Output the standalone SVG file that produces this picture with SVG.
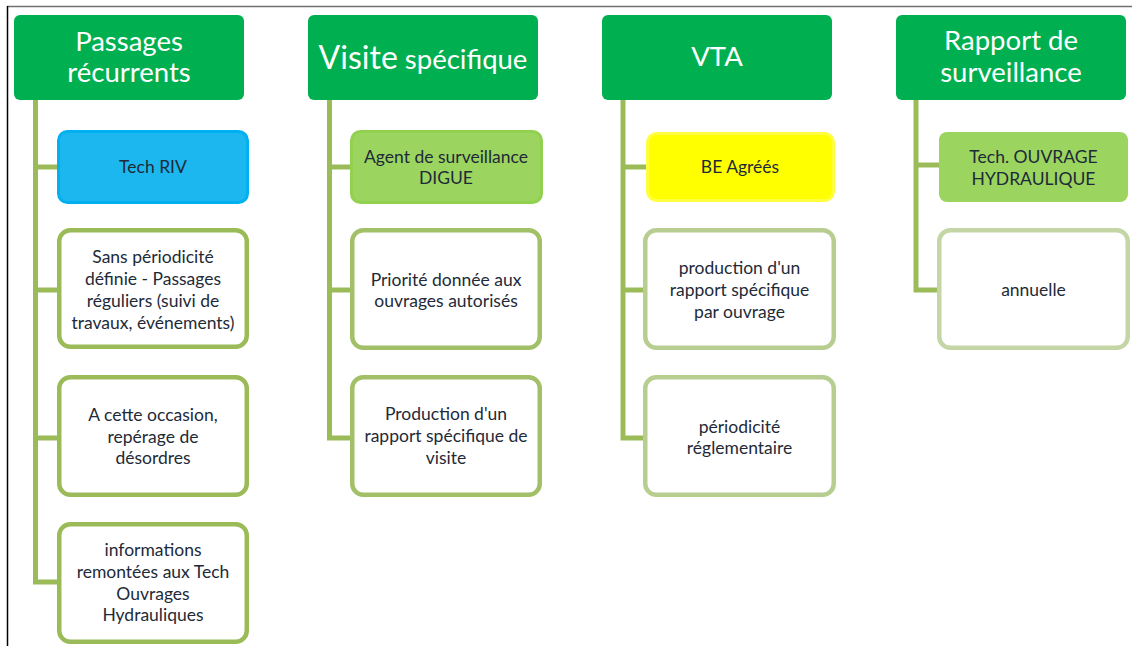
<svg xmlns="http://www.w3.org/2000/svg" width="1132" height="646" viewBox="0 0 1132 646">
<style>
.hdr{fill:#00B050}
.ht{font-family:Lato,"Open Sans",sans-serif;fill:#FFFFFF;text-anchor:middle;font-size:27.5px}
.ct{font-family:Lato,"Open Sans",sans-serif;fill:#1E2A38;text-anchor:middle;font-size:17.5px}
.wb{fill:#FFFFFF;stroke-width:4.5}
.conn{stroke:#9BBB59;stroke-width:5;fill:none}
</style>
<rect width="1132" height="646" fill="#FFFFFF"/>
<line x1="7" y1="6.5" x2="1132" y2="6.5" stroke="#707070" stroke-width="1.5"/>
<line x1="7.5" y1="6" x2="7.5" y2="646" stroke="#000000" stroke-width="1.5"/>

<g id="connectors">
  <path class="conn" d="M35.5,100 V582 H59"/>
  <path class="conn" d="M35.5,167 H59 M35.5,290 H59 M35.5,438 H59"/>
  <path class="conn" d="M329.5,100 V438 H352"/>
  <path class="conn" d="M329.5,167 H352 M329.5,290 H352"/>
  <path class="conn" d="M623,100 V438 H645"/>
  <path class="conn" d="M623,167 H648 M623,290 H645"/>
  <path class="conn" d="M916,100 V290 H939"/>
  <path class="conn" d="M916,165 H941"/>
</g>

<g id="h1">
  <rect class="hdr" x="14" y="15" width="230" height="85" rx="6"/>
  <text class="ht" x="129" y="51">Passages</text>
  <text class="ht" x="129" y="82">récurrents</text>
</g>
<g id="h2">
  <rect class="hdr" x="308" y="15" width="230" height="85" rx="6"/>
  <text class="ht" x="423" y="69"><tspan font-size="32">Visite</tspan> spécifique</text>
</g>
<g id="h3">
  <rect class="hdr" x="602" y="15" width="230" height="85" rx="6"/>
  <text class="ht" x="717" y="66" font-size="25">VTA</text>
</g>
<g id="h4">
  <rect class="hdr" x="896" y="15" width="230" height="85" rx="6"/>
  <text class="ht" x="1011" y="50">Rapport de</text>
  <text class="ht" x="1011" y="82">surveillance</text>
</g>

<g id="c1a">
  <rect x="58.5" y="131.5" width="189" height="71" rx="9" fill="#1DB7EF" stroke="#00B0F0" stroke-width="3"/>
  <text class="ct" x="153" y="173">Tech RIV</text>
</g>
<g id="c1b">
  <rect class="wb" x="59.25" y="230.25" width="187.5" height="116.5" rx="11" stroke="#9BBB59"/>
  <text class="ct" x="153" y="263">Sans périodicité</text>
  <text class="ct" x="153" y="285">définie - Passages</text>
  <text class="ct" x="153" y="307">réguliers (suivi de</text>
  <text class="ct" x="153" y="329">travaux, événements)</text>
</g>
<g id="c1c">
  <rect class="wb" x="59.25" y="377.25" width="187.5" height="117.5" rx="11" stroke="#9BBB59"/>
  <text class="ct" x="153" y="421">A cette occasion,</text>
  <text class="ct" x="153" y="443">repérage de</text>
  <text class="ct" x="153" y="464">désordres</text>
</g>
<g id="c1d">
  <rect class="wb" x="59.25" y="524.25" width="187.5" height="117.5" rx="11" stroke="#9BBB59"/>
  <text class="ct" x="153" y="556">informations</text>
  <text class="ct" x="153" y="578">remontées aux Tech</text>
  <text class="ct" x="153" y="600">Ouvrages</text>
  <text class="ct" x="153" y="621">Hydrauliques</text>
</g>

<g id="c2a">
  <rect x="351.5" y="131.5" width="190" height="71" rx="9" fill="#9CD460" stroke="#92D050" stroke-width="3"/>
  <text class="ct" x="446" y="163">Agent de surveillance</text>
  <text class="ct" x="446" y="184">DIGUE</text>
</g>
<g id="c2b">
  <rect class="wb" x="352.25" y="230.25" width="187.5" height="117.5" rx="11" stroke="#A2C068"/>
  <text class="ct" x="446" y="286">Priorité donnée aux</text>
  <text class="ct" x="446" y="307">ouvrages autorisés</text>
</g>
<g id="c2c">
  <rect class="wb" x="352.25" y="377.25" width="187.5" height="117.5" rx="11" stroke="#A2C068"/>
  <text class="ct" x="446" y="420">Production d'un</text>
  <text class="ct" x="446" y="442">rapport spécifique de</text>
  <text class="ct" x="446" y="464">visite</text>
</g>

<g id="c3a">
  <rect x="647.5" y="133.5" width="186" height="67" rx="9" fill="#FFFF00" stroke="#FFFF40" stroke-width="3"/>
  <text class="ct" x="740" y="173">BE Agréés</text>
</g>
<g id="c3b">
  <rect class="wb" x="645.25" y="230.25" width="188.5" height="117.5" rx="11" stroke="#B8CE91"/>
  <text class="ct" x="739.5" y="274">production d'un</text>
  <text class="ct" x="739.5" y="296">rapport spécifique</text>
  <text class="ct" x="739.5" y="318">par ouvrage</text>
</g>
<g id="c3c">
  <rect class="wb" x="645.25" y="377.25" width="188.5" height="117.5" rx="11" stroke="#B8CE91"/>
  <text class="ct" x="739.5" y="433">périodicité</text>
  <text class="ct" x="739.5" y="454">réglementaire</text>
</g>

<g id="c4a">
  <rect x="939" y="132" width="189" height="70" rx="8" fill="#9CD460"/>
  <text class="ct" x="1033.5" y="163">Tech. OUVRAGE</text>
  <text class="ct" x="1033.5" y="185">HYDRAULIQUE</text>
</g>
<g id="c4b">
  <rect class="wb" x="939.25" y="230.25" width="188.5" height="117.5" rx="11" stroke="#C4D6A5"/>
  <text class="ct" x="1033.5" y="296">annuelle</text>
</g>
</svg>
